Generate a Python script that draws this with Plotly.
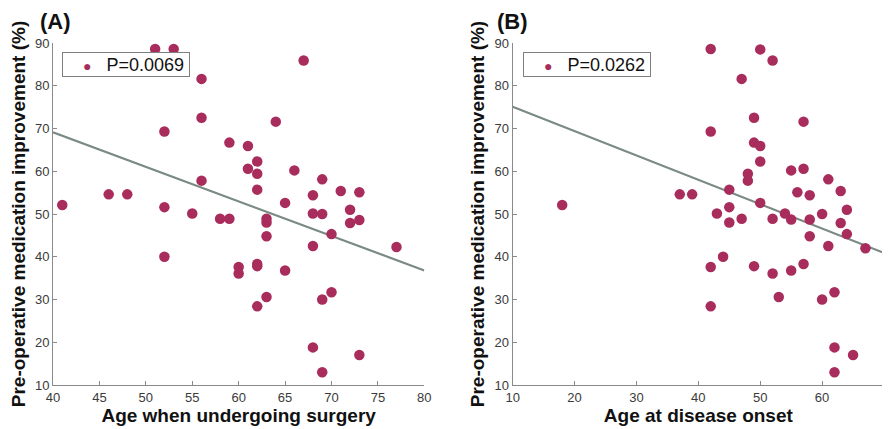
import plotly.graph_objects as go

# Panel A: age when undergoing surgery vs improvement
age_surgery = [41, 46, 48, 51, 53, 52, 52, 52, 55, 56, 56, 56, 58, 59, 59, 60, 60,
               61, 61, 62, 62, 62, 62, 62, 62, 63, 63, 63, 63, 64, 65, 65, 66, 67,
               68, 68, 68, 68, 69, 69, 69, 69, 70, 70, 71, 72, 72, 73, 73, 73, 77]
improve_a = [52.1, 54.6, 54.6, 88.6, 88.6, 69.3, 51.6, 40.0, 50.1, 81.6, 72.5, 57.8,
             48.9, 48.9, 66.7, 37.6, 36.1, 65.9, 60.6, 62.3, 59.4, 55.7, 38.3, 37.8,
             28.4, 48.9, 48.0, 44.8, 30.6, 71.6, 52.6, 36.8, 60.2, 85.9, 54.4, 50.1,
             42.5, 18.8, 58.1, 50.0, 30.0, 13.0, 45.3, 31.7, 55.4, 51.0, 47.9, 55.1,
             48.6, 17.0, 42.3]

# Panel B: age at disease onset vs improvement
age_onset = [18, 37, 39, 42, 50, 52, 47, 42, 49, 57, 49, 50, 50, 48, 48, 55, 57, 61,
             56, 58, 63, 45, 50, 45, 64, 43, 54, 60, 45, 47, 52, 55, 58, 63, 64, 58,
             61, 67, 42, 44, 49, 52, 55, 57, 42, 53, 60, 62, 62, 65, 62]
improve_b = [52.1, 54.6, 54.6, 88.6, 88.5, 85.9, 81.6, 69.3, 72.5, 71.6, 66.7, 65.9,
             62.3, 59.4, 57.8, 60.2, 60.6, 58.1, 55.1, 54.4, 55.4, 55.7, 52.6, 51.6,
             51.0, 50.1, 50.1, 50.0, 48.0, 48.9, 48.9, 48.7, 48.7, 47.9, 45.3, 44.8,
             42.5, 42.0, 37.6, 40.0, 37.8, 36.1, 36.8, 38.3, 28.4, 30.6, 30.0, 31.7,
             18.8, 17.0, 13.0]

# Fitted regression lines (end points)
fit_a_x = [40, 80]
fit_a_y = [69.1, 36.8]
fit_b_x = [10, 70]
fit_b_y = [75.1, 40.9]

p_labels = ["P=0.0069", "P=0.0262"]
x_titles = ["Age when undergoing surgery", "Age at disease onset"]
y_title = "Pre-operative medication improvement (%)"
panel_labels = ["(A)", "(B)"]
y_ticks = [10, 20, 30, 40, 50, 60, 70, 80, 90]
x_ticks_a = [40, 45, 50, 55, 60, 65, 70, 75, 80]
x_ticks_b = [10, 20, 30, 40, 50, 60, 70]

DOT = "#A82C5C"
LINE = "#7A8A84"
AX = "#8a8a8a"
TXT = "#3a3a3a"
FONT = "Liberation Sans, Arial, Helvetica, sans-serif"

# page body has an 8px margin: work in figure pixels = picture pixels - 8
OFF = 8
W, H = 890 - OFF, 429 - OFF
ml = 52.7 - OFF
mt = 42.7 - OFF
mr = W - (884.3 - OFF)
mb = H - (384.7 - OFF)
pw = W - ml - mr
ph = H - mt - mb


def px(xpic):
    return (xpic - OFF - ml) / pw


def py(ypic):
    return 1 - (ypic - OFF - mt) / ph


fig = go.Figure()

panels = [
    (age_surgery, improve_a, fit_a_x, fit_a_y, "x", "y"),
    (age_onset, improve_b, fit_b_x, fit_b_y, "x2", "y2"),
]
for i, (xs, ys, fx, fy, xa, ya) in enumerate(panels):
    fig.add_trace(go.Scatter(x=fx, y=fy, mode="lines", xaxis=xa, yaxis=ya,
                             line=dict(color=LINE, width=2.2), showlegend=False,
                             hoverinfo="skip"))
    fig.add_trace(go.Scatter(x=xs, y=ys, mode="markers", xaxis=xa, yaxis=ya,
                             marker=dict(color=DOT, size=10.5, line=dict(width=0)),
                             name=p_labels[i], showlegend=False))

axis_common = dict(showgrid=False, zeroline=False, showline=True, linecolor=AX,
                   linewidth=1, ticks="inside", ticklen=4, tickcolor=AX, mirror=False,
                   tickfont=dict(family=FONT, size=13, color=TXT), automargin=False)
title_font = dict(family=FONT, size=19, color="#111111")

fig.update_layout(
    width=W, height=H,
    margin=dict(l=ml, r=mr, t=mt, b=mb),
    paper_bgcolor="white", plot_bgcolor="white",
    font=dict(family=FONT),
    showlegend=False,
    xaxis=dict(domain=[px(52.7), px(424.3)], range=[40, 80], tickvals=x_ticks_a,
               anchor="y", title=dict(text="<b>" + x_titles[0] + "</b>",
                                      font=title_font, standoff=2), **axis_common),
    yaxis=dict(domain=[0, 1], range=[10, 90], tickvals=y_ticks, anchor="x",
               title=dict(text="<b>" + y_title + "</b>", font=title_font, standoff=4),
               **axis_common),
    xaxis2=dict(domain=[px(512.7), px(884.3)], range=[10, 70], tickvals=x_ticks_b,
                anchor="y2", title=dict(text="<b>" + x_titles[1] + "</b>",
                                        font=title_font, standoff=2), **axis_common),
    yaxis2=dict(domain=[0, 1], range=[10, 90], tickvals=y_ticks, anchor="x2",
                title=dict(text="<b>" + y_title + "</b>", font=title_font, standoff=4),
                **axis_common),
)

# legend boxes (one per panel)
NB = "\u00a0"
for i, xpic in enumerate([62, 523]):
    txt = (NB * 4 + "<span style='font-size:14px;color:" + DOT + "'>\u25cf</span>"
           + NB * 3 + p_labels[i])
    fig.add_annotation(text=txt, xref="paper", yref="paper", x=px(xpic), y=py(52),
                       xanchor="left", yanchor="top", align="left", valign="middle",
                       width=126, height=23, borderpad=0, borderwidth=1,
                       bordercolor="#7f7f7f", bgcolor="white", showarrow=False,
                       font=dict(family=FONT, size=18, color="#111111"))

for i, xpic in enumerate([55, 513]):
    fig.add_annotation(text="<b>" + panel_labels[i] + "</b>", xref="paper", yref="paper",
                       x=px(xpic), y=py(21), xanchor="center", yanchor="middle",
                       showarrow=False, font=dict(family=FONT, size=22, color="#111111"))

fig.write_html("out.html")
